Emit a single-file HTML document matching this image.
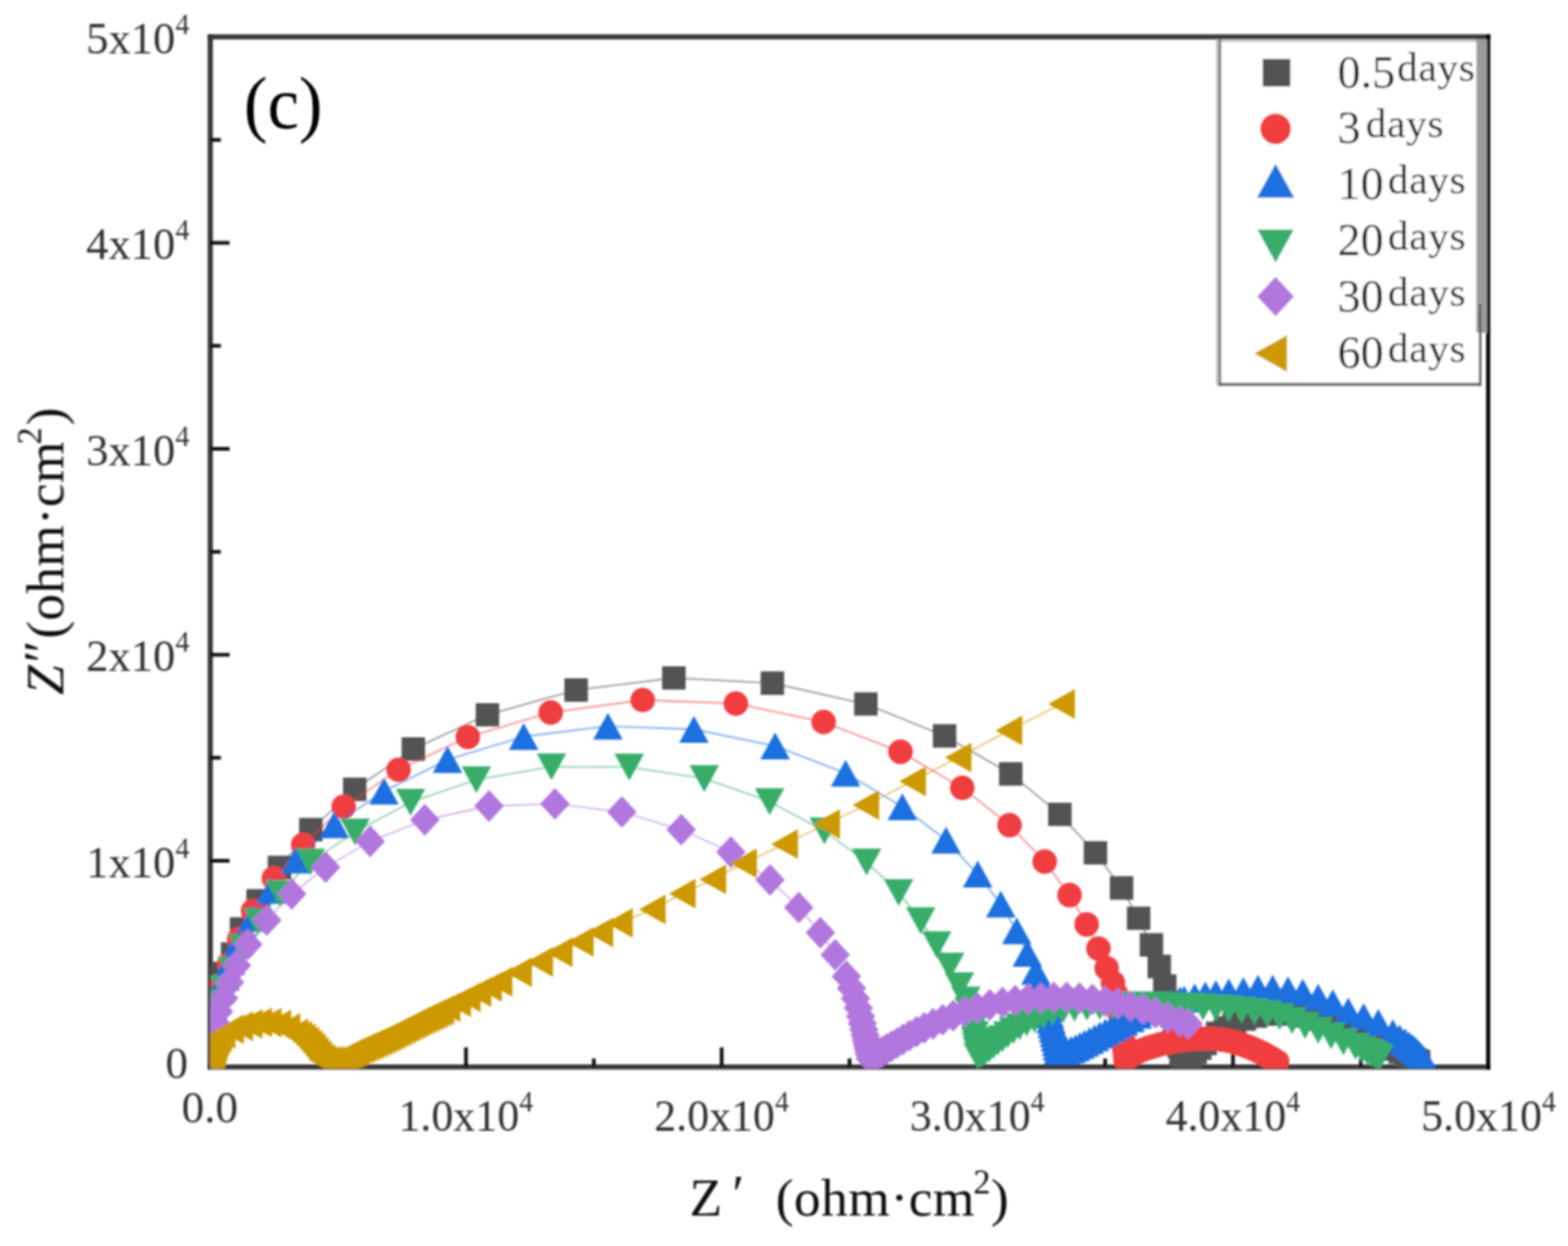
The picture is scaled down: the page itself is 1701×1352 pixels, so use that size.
<!DOCTYPE html>
<html lang="en">
<head>
<meta charset="utf-8">
<title>Nyquist plot (c)</title>
<style>
html,body{margin:0;padding:0;background:#fff;}
body{width:1701px;height:1352px;}
svg{display:block;font-family:"Liberation Serif","DejaVu Serif",serif;}
</style>
</head>
<body>
<svg width="1701" height="1352" viewBox="0 0 1701 1352">
<defs><clipPath id="plot"><rect x="228.1" y="40" width="1386" height="1119.3"/></clipPath><filter id="soft" x="0" y="0" width="100%" height="100%" filterUnits="userSpaceOnUse"><feGaussianBlur stdDeviation="0.8"/></filter></defs>
<rect width="1701" height="1352" fill="#fff"/>
<g filter="url(#soft)">
<g stroke="#383838" stroke-width="5.6" fill="none" stroke-linecap="butt">
<path d="M228.1 1160.5V37.2"/>
<path d="M225.29999999999998 40.0H1616.6"/>
<path d="M225.29999999999998 1157.7H1616.6"/>
</g>
<path d="M1614.4 37.2V1160.5" stroke="#000" stroke-width="4.4" fill="none"/>
<g stroke="#111" stroke-width="4" fill="none">
<path d="M228.1 934.0H249.1"/>
<path d="M228.1 710.5H249.1"/>
<path d="M228.1 487.0H249.1"/>
<path d="M228.1 263.5H249.1"/>
<path d="M228.1 1045.8H239.6"/>
<path d="M228.1 822.2H239.6"/>
<path d="M228.1 598.8H239.6"/>
<path d="M228.1 375.2H239.6"/>
<path d="M228.1 151.8H239.6"/>
<path d="M505.5 1157.5V1136.5"/>
<path d="M782.9 1157.5V1136.5"/>
<path d="M1060.2 1157.5V1136.5"/>
<path d="M1337.6 1157.5V1136.5"/>
<path d="M366.8 1157.5V1148.5"/>
<path d="M644.2 1157.5V1148.5"/>
<path d="M921.6 1157.5V1148.5"/>
<path d="M1198.9 1157.5V1148.5"/>
<path d="M1476.3 1157.5V1148.5"/>
</g>
<g clip-path="url(#plot)">
<path d="M228.2 1152.0L228.2 1149.1L228.2 1144.1L228.3 1138.5L228.3 1131.9L228.4 1123.9L228.7 1114.5L229.3 1103.2L230.8 1089.9L234.7 1074.4L241.0 1056.5L252.3 1035.3L262.0 1008.0L280.0 977.5L303.2 941.2L337.2 900.3L384.8 856.5L448.4 812.7L528.8 775.6L625.0 748.8L731.0 735.6L837.9 741.3L939.3 763.9L1024.7 798.5L1096.5 839.7L1149.8 883.6L1188.4 925.4L1216.7 963.5L1235.2 996.4L1249.1 1025.3L1257.6 1048.8L1263.6 1070.0L1267.9 1087.5L1271.3 1102.4L1274.2 1115.1L1276.7 1125.8L1279.0 1135.0L1281.1 1142.7L1282.9 1149.2L1284.0 1153.0L1287.8 1149.7L1291.9 1146.0L1296.5 1141.9L1301.6 1137.3L1307.3 1132.2L1313.7 1126.8L1321.0 1121.2L1329.4 1115.5L1339.0 1110.3L1349.9 1105.7L1362.2 1102.5L1375.3 1100.3L1389.0 1099.5L1402.9 1100.3L1416.7 1102.3L1430.1 1105.5L1442.9 1109.5L1455.0 1114.0L1466.4 1118.5L1477.1 1122.8L1487.0 1126.9L1496.2 1130.8L1504.6 1134.6L1512.2 1138.2L1519.1 1141.5L1525.4 1144.7L1531.1 1147.6L1536.2 1150.4L1539.0 1152.0" fill="none" stroke="#525252" stroke-width="1.6" stroke-opacity="0.62"/>
<path d="M215.5 1139.3h25.4v25.4h-25.4zM215.5 1136.4h25.4v25.4h-25.4zM215.5 1131.4h25.4v25.4h-25.4zM215.6 1125.8h25.4v25.4h-25.4zM215.6 1119.2h25.4v25.4h-25.4zM215.7 1111.2h25.4v25.4h-25.4zM216.0 1101.8h25.4v25.4h-25.4zM216.6 1090.5h25.4v25.4h-25.4zM218.1 1077.2h25.4v25.4h-25.4zM222.0 1061.7h25.4v25.4h-25.4zM228.3 1043.8h25.4v25.4h-25.4zM239.6 1022.6h25.4v25.4h-25.4zM249.3 995.3h25.4v25.4h-25.4zM267.3 964.8h25.4v25.4h-25.4zM290.5 928.5h25.4v25.4h-25.4zM324.5 887.6h25.4v25.4h-25.4zM372.1 843.8h25.4v25.4h-25.4zM435.7 800.0h25.4v25.4h-25.4zM516.1 762.9h25.4v25.4h-25.4zM612.3 736.1h25.4v25.4h-25.4zM718.3 722.9h25.4v25.4h-25.4zM825.2 728.6h25.4v25.4h-25.4zM926.6 751.2h25.4v25.4h-25.4zM1012.0 785.8h25.4v25.4h-25.4zM1083.8 827.0h25.4v25.4h-25.4zM1137.1 870.9h25.4v25.4h-25.4zM1175.7 912.7h25.4v25.4h-25.4zM1204.0 950.8h25.4v25.4h-25.4zM1222.5 983.7h25.4v25.4h-25.4zM1236.4 1012.6h25.4v25.4h-25.4zM1244.9 1036.1h25.4v25.4h-25.4zM1250.9 1057.3h25.4v25.4h-25.4zM1255.2 1074.8h25.4v25.4h-25.4zM1258.6 1089.7h25.4v25.4h-25.4zM1261.5 1102.4h25.4v25.4h-25.4zM1264.0 1113.1h25.4v25.4h-25.4zM1266.3 1122.3h25.4v25.4h-25.4zM1268.4 1130.0h25.4v25.4h-25.4zM1270.2 1136.5h25.4v25.4h-25.4zM1271.3 1140.3h25.4v25.4h-25.4zM1275.1 1137.0h25.4v25.4h-25.4zM1279.2 1133.3h25.4v25.4h-25.4zM1283.8 1129.2h25.4v25.4h-25.4zM1288.9 1124.6h25.4v25.4h-25.4zM1294.6 1119.5h25.4v25.4h-25.4zM1301.0 1114.1h25.4v25.4h-25.4zM1308.3 1108.5h25.4v25.4h-25.4zM1316.7 1102.8h25.4v25.4h-25.4zM1326.3 1097.6h25.4v25.4h-25.4zM1337.2 1093.0h25.4v25.4h-25.4zM1349.5 1089.8h25.4v25.4h-25.4zM1362.6 1087.6h25.4v25.4h-25.4zM1376.3 1086.8h25.4v25.4h-25.4zM1390.2 1087.6h25.4v25.4h-25.4zM1404.0 1089.6h25.4v25.4h-25.4zM1417.4 1092.8h25.4v25.4h-25.4zM1430.2 1096.8h25.4v25.4h-25.4zM1442.3 1101.3h25.4v25.4h-25.4zM1453.7 1105.8h25.4v25.4h-25.4zM1464.4 1110.1h25.4v25.4h-25.4zM1474.3 1114.2h25.4v25.4h-25.4zM1483.5 1118.1h25.4v25.4h-25.4zM1491.9 1121.9h25.4v25.4h-25.4zM1499.5 1125.5h25.4v25.4h-25.4zM1506.4 1128.8h25.4v25.4h-25.4zM1512.7 1132.0h25.4v25.4h-25.4zM1518.4 1134.9h25.4v25.4h-25.4zM1523.5 1137.7h25.4v25.4h-25.4zM1526.3 1139.3h25.4v25.4h-25.4z" fill="#525252"/>
<path d="M228.2 1152.0L228.3 1144.7L228.6 1136.6L229.2 1127.0L230.3 1115.6L232.3 1102.2L235.9 1086.3L241.1 1067.7L248.6 1046.0L259.5 1019.0L274.5 988.5L297.1 953.0L328.9 916.6L372.8 875.3L432.4 835.2L507.5 799.7L597.4 773.1L697.2 759.6L798.3 763.4L893.5 783.4L976.9 815.7L1043.9 854.8L1095.2 895.3L1133.3 934.9L1160.3 971.2L1178.8 1003.0L1191.6 1029.3L1200.5 1050.5L1207.4 1066.4L1210.8 1079.0L1212.9 1089.9L1214.6 1099.4L1215.8 1107.6L1216.8 1114.6L1217.6 1120.7L1218.2 1125.9L1218.8 1130.9L1219.4 1135.8L1220.0 1140.8L1220.5 1145.8L1221.0 1150.0L1224.0 1147.4L1227.5 1144.8L1231.5 1142.6L1236.0 1140.6L1240.9 1138.7L1246.2 1136.9L1251.9 1135.1L1258.0 1133.4L1264.5 1131.8L1271.4 1130.4L1278.6 1129.2L1286.2 1128.2L1293.9 1127.5L1301.9 1127.0L1309.9 1126.9L1317.8 1127.2L1325.7 1128.1L1333.2 1129.4L1340.5 1131.1L1347.3 1133.3L1353.6 1135.6L1359.5 1138.1L1365.0 1140.5L1370.1 1143.0L1374.7 1145.5L1379.0 1148.0L1382.8 1150.4L1385.5 1152.0" fill="none" stroke="#F03E41" stroke-width="1.6" stroke-opacity="0.62"/>
<path d="M214.9 1152.0a13.3 13.3 0 1 0 26.6 0a13.3 13.3 0 1 0 -26.6 0zM215.0 1144.7a13.3 13.3 0 1 0 26.6 0a13.3 13.3 0 1 0 -26.6 0zM215.3 1136.6a13.3 13.3 0 1 0 26.6 0a13.3 13.3 0 1 0 -26.6 0zM215.9 1127.0a13.3 13.3 0 1 0 26.6 0a13.3 13.3 0 1 0 -26.6 0zM217.0 1115.6a13.3 13.3 0 1 0 26.6 0a13.3 13.3 0 1 0 -26.6 0zM219.0 1102.2a13.3 13.3 0 1 0 26.6 0a13.3 13.3 0 1 0 -26.6 0zM222.6 1086.3a13.3 13.3 0 1 0 26.6 0a13.3 13.3 0 1 0 -26.6 0zM227.8 1067.7a13.3 13.3 0 1 0 26.6 0a13.3 13.3 0 1 0 -26.6 0zM235.3 1046.0a13.3 13.3 0 1 0 26.6 0a13.3 13.3 0 1 0 -26.6 0zM246.2 1019.0a13.3 13.3 0 1 0 26.6 0a13.3 13.3 0 1 0 -26.6 0zM261.2 988.5a13.3 13.3 0 1 0 26.6 0a13.3 13.3 0 1 0 -26.6 0zM283.8 953.0a13.3 13.3 0 1 0 26.6 0a13.3 13.3 0 1 0 -26.6 0zM315.6 916.6a13.3 13.3 0 1 0 26.6 0a13.3 13.3 0 1 0 -26.6 0zM359.5 875.3a13.3 13.3 0 1 0 26.6 0a13.3 13.3 0 1 0 -26.6 0zM419.1 835.2a13.3 13.3 0 1 0 26.6 0a13.3 13.3 0 1 0 -26.6 0zM494.2 799.7a13.3 13.3 0 1 0 26.6 0a13.3 13.3 0 1 0 -26.6 0zM584.1 773.1a13.3 13.3 0 1 0 26.6 0a13.3 13.3 0 1 0 -26.6 0zM683.9 759.6a13.3 13.3 0 1 0 26.6 0a13.3 13.3 0 1 0 -26.6 0zM785.0 763.4a13.3 13.3 0 1 0 26.6 0a13.3 13.3 0 1 0 -26.6 0zM880.2 783.4a13.3 13.3 0 1 0 26.6 0a13.3 13.3 0 1 0 -26.6 0zM963.6 815.7a13.3 13.3 0 1 0 26.6 0a13.3 13.3 0 1 0 -26.6 0zM1030.6 854.8a13.3 13.3 0 1 0 26.6 0a13.3 13.3 0 1 0 -26.6 0zM1081.9 895.3a13.3 13.3 0 1 0 26.6 0a13.3 13.3 0 1 0 -26.6 0zM1120.0 934.9a13.3 13.3 0 1 0 26.6 0a13.3 13.3 0 1 0 -26.6 0zM1147.0 971.2a13.3 13.3 0 1 0 26.6 0a13.3 13.3 0 1 0 -26.6 0zM1165.5 1003.0a13.3 13.3 0 1 0 26.6 0a13.3 13.3 0 1 0 -26.6 0zM1178.3 1029.3a13.3 13.3 0 1 0 26.6 0a13.3 13.3 0 1 0 -26.6 0zM1187.2 1050.5a13.3 13.3 0 1 0 26.6 0a13.3 13.3 0 1 0 -26.6 0zM1194.1 1066.4a13.3 13.3 0 1 0 26.6 0a13.3 13.3 0 1 0 -26.6 0zM1197.5 1079.0a13.3 13.3 0 1 0 26.6 0a13.3 13.3 0 1 0 -26.6 0zM1199.6 1089.9a13.3 13.3 0 1 0 26.6 0a13.3 13.3 0 1 0 -26.6 0zM1201.3 1099.4a13.3 13.3 0 1 0 26.6 0a13.3 13.3 0 1 0 -26.6 0zM1202.5 1107.6a13.3 13.3 0 1 0 26.6 0a13.3 13.3 0 1 0 -26.6 0zM1203.5 1114.6a13.3 13.3 0 1 0 26.6 0a13.3 13.3 0 1 0 -26.6 0zM1204.3 1120.7a13.3 13.3 0 1 0 26.6 0a13.3 13.3 0 1 0 -26.6 0zM1204.9 1125.9a13.3 13.3 0 1 0 26.6 0a13.3 13.3 0 1 0 -26.6 0zM1205.5 1130.9a13.3 13.3 0 1 0 26.6 0a13.3 13.3 0 1 0 -26.6 0zM1206.1 1135.8a13.3 13.3 0 1 0 26.6 0a13.3 13.3 0 1 0 -26.6 0zM1206.7 1140.8a13.3 13.3 0 1 0 26.6 0a13.3 13.3 0 1 0 -26.6 0zM1207.2 1145.8a13.3 13.3 0 1 0 26.6 0a13.3 13.3 0 1 0 -26.6 0zM1207.7 1150.0a13.3 13.3 0 1 0 26.6 0a13.3 13.3 0 1 0 -26.6 0zM1210.7 1147.4a13.3 13.3 0 1 0 26.6 0a13.3 13.3 0 1 0 -26.6 0zM1214.2 1144.8a13.3 13.3 0 1 0 26.6 0a13.3 13.3 0 1 0 -26.6 0zM1218.2 1142.6a13.3 13.3 0 1 0 26.6 0a13.3 13.3 0 1 0 -26.6 0zM1222.7 1140.6a13.3 13.3 0 1 0 26.6 0a13.3 13.3 0 1 0 -26.6 0zM1227.6 1138.7a13.3 13.3 0 1 0 26.6 0a13.3 13.3 0 1 0 -26.6 0zM1232.9 1136.9a13.3 13.3 0 1 0 26.6 0a13.3 13.3 0 1 0 -26.6 0zM1238.6 1135.1a13.3 13.3 0 1 0 26.6 0a13.3 13.3 0 1 0 -26.6 0zM1244.7 1133.4a13.3 13.3 0 1 0 26.6 0a13.3 13.3 0 1 0 -26.6 0zM1251.2 1131.8a13.3 13.3 0 1 0 26.6 0a13.3 13.3 0 1 0 -26.6 0zM1258.1 1130.4a13.3 13.3 0 1 0 26.6 0a13.3 13.3 0 1 0 -26.6 0zM1265.3 1129.2a13.3 13.3 0 1 0 26.6 0a13.3 13.3 0 1 0 -26.6 0zM1272.9 1128.2a13.3 13.3 0 1 0 26.6 0a13.3 13.3 0 1 0 -26.6 0zM1280.6 1127.5a13.3 13.3 0 1 0 26.6 0a13.3 13.3 0 1 0 -26.6 0zM1288.6 1127.0a13.3 13.3 0 1 0 26.6 0a13.3 13.3 0 1 0 -26.6 0zM1296.6 1126.9a13.3 13.3 0 1 0 26.6 0a13.3 13.3 0 1 0 -26.6 0zM1304.5 1127.2a13.3 13.3 0 1 0 26.6 0a13.3 13.3 0 1 0 -26.6 0zM1312.4 1128.1a13.3 13.3 0 1 0 26.6 0a13.3 13.3 0 1 0 -26.6 0zM1319.9 1129.4a13.3 13.3 0 1 0 26.6 0a13.3 13.3 0 1 0 -26.6 0zM1327.2 1131.1a13.3 13.3 0 1 0 26.6 0a13.3 13.3 0 1 0 -26.6 0zM1334.0 1133.3a13.3 13.3 0 1 0 26.6 0a13.3 13.3 0 1 0 -26.6 0zM1340.3 1135.6a13.3 13.3 0 1 0 26.6 0a13.3 13.3 0 1 0 -26.6 0zM1346.2 1138.1a13.3 13.3 0 1 0 26.6 0a13.3 13.3 0 1 0 -26.6 0zM1351.7 1140.5a13.3 13.3 0 1 0 26.6 0a13.3 13.3 0 1 0 -26.6 0zM1356.8 1143.0a13.3 13.3 0 1 0 26.6 0a13.3 13.3 0 1 0 -26.6 0zM1361.4 1145.5a13.3 13.3 0 1 0 26.6 0a13.3 13.3 0 1 0 -26.6 0zM1365.7 1148.0a13.3 13.3 0 1 0 26.6 0a13.3 13.3 0 1 0 -26.6 0zM1369.5 1150.4a13.3 13.3 0 1 0 26.6 0a13.3 13.3 0 1 0 -26.6 0zM1372.2 1152.0a13.3 13.3 0 1 0 26.6 0a13.3 13.3 0 1 0 -26.6 0z" fill="#F03E41"/>
<path d="M228.3 1150.0L228.5 1144.2L228.6 1139.2L228.8 1134.2L229.0 1129.2L229.3 1124.2L229.7 1118.7L230.2 1112.3L231.2 1104.8L232.8 1096.0L235.3 1085.9L239.0 1074.1L244.0 1060.5L250.0 1043.3L258.9 1022.7L273.7 996.3L294.0 966.2L321.3 933.2L362.7 894.8L416.6 858.5L485.5 824.2L568.1 799.2L659.5 788.0L752.8 791.4L840.9 809.4L917.3 839.0L978.9 875.3L1026.3 911.6L1060.6 948.4L1085.7 981.0L1103.0 1010.0L1114.5 1034.5L1123.7 1054.0L1128.4 1066.1L1131.7 1076.8L1134.3 1086.1L1136.6 1094.0L1138.5 1100.9L1140.1 1106.8L1141.4 1111.8L1142.7 1116.7L1143.8 1121.6L1144.9 1126.4L1146.0 1131.3L1147.0 1136.2L1148.0 1141.0L1152.5 1140.7L1157.2 1140.1L1161.9 1138.8L1166.7 1136.8L1171.5 1134.4L1176.5 1131.8L1181.8 1129.1L1187.3 1126.1L1193.0 1123.0L1199.0 1119.8L1205.3 1116.4L1211.8 1112.9L1218.7 1109.2L1225.9 1105.4L1233.6 1101.6L1241.8 1097.9L1250.5 1094.5L1259.8 1091.3L1269.6 1088.1L1280.0 1085.2L1284.5 1084.0L1296.0 1081.5L1307.5 1079.7L1319.0 1078.0L1333.0 1076.3L1348.8 1074.9L1364.7 1072.4L1380.6 1072.4L1397.3 1074.0L1413.2 1076.7L1430.0 1082.0L1445.8 1088.0L1462.6 1097.0L1479.3 1103.0L1495.2 1109.3L1511.0 1120.7L1518.3 1126.0L1524.1 1130.3L1528.6 1133.8L1532.2 1136.7L1535.6 1139.7L1538.8 1142.8L1541.8 1146.1L1544.5 1149.7L1545.5 1151.0" fill="none" stroke="#1A6FDF" stroke-width="1.6" stroke-opacity="0.62"/>
<path d="M228.3 1135.4L244.3 1164.6L212.3 1164.6zM228.5 1129.6L244.5 1158.8L212.5 1158.8zM228.6 1124.6L244.6 1153.8L212.6 1153.8zM228.8 1119.6L244.8 1148.8L212.8 1148.8zM229.0 1114.6L245.0 1143.8L213.0 1143.8zM229.3 1109.6L245.3 1138.8L213.3 1138.8zM229.7 1104.1L245.7 1133.3L213.7 1133.3zM230.2 1097.7L246.2 1126.9L214.2 1126.9zM231.2 1090.2L247.2 1119.4L215.2 1119.4zM232.8 1081.4L248.8 1110.6L216.8 1110.6zM235.3 1071.3L251.3 1100.5L219.3 1100.5zM239.0 1059.5L255.0 1088.7L223.0 1088.7zM244.0 1045.9L260.0 1075.1L228.0 1075.1zM250.0 1028.7L266.0 1057.9L234.0 1057.9zM258.9 1008.1L274.9 1037.3L242.9 1037.3zM273.7 981.7L289.7 1010.9L257.7 1010.9zM294.0 951.6L310.0 980.8L278.0 980.8zM321.3 918.6L337.3 947.8L305.3 947.8zM362.7 880.2L378.7 909.4L346.7 909.4zM416.6 843.9L432.6 873.1L400.6 873.1zM485.5 809.6L501.5 838.8L469.5 838.8zM568.1 784.6L584.1 813.8L552.1 813.8zM659.5 773.4L675.5 802.6L643.5 802.6zM752.8 776.8L768.8 806.0L736.8 806.0zM840.9 794.8L856.9 824.0L824.9 824.0zM917.3 824.4L933.3 853.6L901.3 853.6zM978.9 860.7L994.9 889.9L962.9 889.9zM1026.3 897.0L1042.3 926.2L1010.3 926.2zM1060.6 933.8L1076.6 963.0L1044.6 963.0zM1085.7 966.4L1101.7 995.6L1069.7 995.6zM1103.0 995.4L1119.0 1024.6L1087.0 1024.6zM1114.5 1019.9L1130.5 1049.1L1098.5 1049.1zM1123.7 1039.4L1139.7 1068.6L1107.7 1068.6zM1128.4 1051.5L1144.4 1080.7L1112.4 1080.7zM1131.7 1062.2L1147.7 1091.4L1115.7 1091.4zM1134.3 1071.5L1150.3 1100.7L1118.3 1100.7zM1136.6 1079.4L1152.6 1108.6L1120.6 1108.6zM1138.5 1086.3L1154.5 1115.5L1122.5 1115.5zM1140.1 1092.2L1156.1 1121.4L1124.1 1121.4zM1141.4 1097.2L1157.4 1126.4L1125.4 1126.4zM1142.7 1102.1L1158.7 1131.3L1126.7 1131.3zM1143.8 1107.0L1159.8 1136.2L1127.8 1136.2zM1144.9 1111.8L1160.9 1141.0L1128.9 1141.0zM1146.0 1116.7L1162.0 1145.9L1130.0 1145.9zM1147.0 1121.6L1163.0 1150.8L1131.0 1150.8zM1148.0 1126.4L1164.0 1155.6L1132.0 1155.6zM1152.5 1126.1L1168.5 1155.3L1136.5 1155.3zM1157.2 1125.5L1173.2 1154.7L1141.2 1154.7zM1161.9 1124.2L1177.9 1153.4L1145.9 1153.4zM1166.7 1122.2L1182.7 1151.4L1150.7 1151.4zM1171.5 1119.8L1187.5 1149.0L1155.5 1149.0zM1176.5 1117.2L1192.5 1146.4L1160.5 1146.4zM1181.8 1114.5L1197.8 1143.7L1165.8 1143.7zM1187.3 1111.5L1203.3 1140.7L1171.3 1140.7zM1193.0 1108.4L1209.0 1137.6L1177.0 1137.6zM1199.0 1105.2L1215.0 1134.4L1183.0 1134.4zM1205.3 1101.8L1221.3 1131.0L1189.3 1131.0zM1211.8 1098.3L1227.8 1127.5L1195.8 1127.5zM1218.7 1094.6L1234.7 1123.8L1202.7 1123.8zM1225.9 1090.8L1241.9 1120.0L1209.9 1120.0zM1233.6 1087.0L1249.6 1116.2L1217.6 1116.2zM1241.8 1083.3L1257.8 1112.5L1225.8 1112.5zM1250.5 1079.9L1266.5 1109.1L1234.5 1109.1zM1259.8 1076.7L1275.8 1105.9L1243.8 1105.9zM1269.6 1073.5L1285.6 1102.7L1253.6 1102.7zM1280.0 1070.6L1296.0 1099.8L1264.0 1099.8zM1284.5 1069.4L1300.5 1098.6L1268.5 1098.6zM1296.0 1066.9L1312.0 1096.1L1280.0 1096.1zM1307.5 1065.1L1323.5 1094.3L1291.5 1094.3zM1319.0 1063.4L1335.0 1092.6L1303.0 1092.6zM1333.0 1061.7L1349.0 1090.9L1317.0 1090.9zM1348.8 1060.3L1364.8 1089.5L1332.8 1089.5zM1364.7 1057.8L1380.7 1087.0L1348.7 1087.0zM1380.6 1057.8L1396.6 1087.0L1364.6 1087.0zM1397.3 1059.4L1413.3 1088.6L1381.3 1088.6zM1413.2 1062.1L1429.2 1091.3L1397.2 1091.3zM1430.0 1067.4L1446.0 1096.6L1414.0 1096.6zM1445.8 1073.4L1461.8 1102.6L1429.8 1102.6zM1462.6 1082.4L1478.6 1111.6L1446.6 1111.6zM1479.3 1088.4L1495.3 1117.6L1463.3 1117.6zM1495.2 1094.7L1511.2 1123.9L1479.2 1123.9zM1511.0 1106.1L1527.0 1135.3L1495.0 1135.3zM1518.3 1111.4L1534.3 1140.6L1502.3 1140.6zM1524.1 1115.7L1540.1 1144.9L1508.1 1144.9zM1528.6 1119.2L1544.6 1148.4L1512.6 1148.4zM1532.2 1122.1L1548.2 1151.3L1516.2 1151.3zM1535.6 1125.1L1551.6 1154.3L1519.6 1154.3zM1538.8 1128.2L1554.8 1157.4L1522.8 1157.4zM1541.8 1131.5L1557.8 1160.7L1525.8 1160.7zM1544.5 1135.1L1560.5 1164.3L1528.5 1164.3zM1545.5 1136.4L1561.5 1165.6L1529.5 1165.6z" fill="#1A6FDF"/>
<path d="M228.2 1150.0L228.3 1146.9L228.5 1141.9L228.7 1136.9L229.0 1131.5L229.4 1125.3L230.0 1118.0L231.1 1109.4L233.2 1099.4L237.0 1088.0L243.0 1072.5L251.8 1052.6L263.5 1028.0L279.9 1000.0L303.7 969.5L336.5 935.4L385.3 902.9L445.4 870.5L516.8 846.0L598.2 832.0L682.6 832.3L764.0 844.8L834.9 869.8L894.3 901.6L940.1 935.4L974.9 968.5L998.9 999.2L1016.2 1025.0L1030.2 1048.4L1040.8 1069.6L1047.8 1085.0L1051.1 1096.5L1053.5 1106.6L1055.4 1115.2L1057.0 1122.7L1058.4 1129.1L1059.4 1134.7L1060.2 1139.6L1061.0 1146.0L1064.9 1143.8L1069.0 1141.2L1073.2 1138.1L1077.6 1134.7L1082.4 1131.0L1087.6 1127.1L1093.2 1122.9L1099.3 1118.4L1106.1 1114.1L1113.8 1110.0L1122.4 1106.3L1131.7 1102.4L1141.9 1098.6L1153.2 1095.6L1165.6 1093.9L1179.1 1093.0L1193.1 1092.2L1207.1 1091.3L1221.1 1090.7L1235.1 1090.4L1249.1 1090.4L1263.1 1090.8L1277.0 1091.3L1291.0 1091.9L1305.0 1092.7L1319.0 1093.5L1332.9 1094.7L1346.9 1096.1L1360.8 1097.8L1374.6 1099.9L1388.2 1103.1L1401.7 1107.3L1415.8 1112.6L1430.0 1118.0L1444.0 1124.0L1457.3 1130.3L1470.5 1135.5L1477.7 1138.9L1483.6 1141.6L1488.2 1143.6L1492.3 1145.6L1496.0 1147.5" fill="none" stroke="#37AD6B" stroke-width="1.6" stroke-opacity="0.62"/>
<path d="M228.2 1164.6L244.2 1135.4L212.2 1135.4zM228.3 1161.5L244.3 1132.3L212.3 1132.3zM228.5 1156.5L244.5 1127.3L212.5 1127.3zM228.7 1151.5L244.7 1122.3L212.7 1122.3zM229.0 1146.1L245.0 1116.9L213.0 1116.9zM229.4 1139.9L245.4 1110.7L213.4 1110.7zM230.0 1132.6L246.0 1103.4L214.0 1103.4zM231.1 1124.0L247.1 1094.8L215.1 1094.8zM233.2 1114.0L249.2 1084.8L217.2 1084.8zM237.0 1102.6L253.0 1073.4L221.0 1073.4zM243.0 1087.1L259.0 1057.9L227.0 1057.9zM251.8 1067.2L267.8 1038.0L235.8 1038.0zM263.5 1042.6L279.5 1013.4L247.5 1013.4zM279.9 1014.6L295.9 985.4L263.9 985.4zM303.7 984.1L319.7 954.9L287.7 954.9zM336.5 950.0L352.5 920.8L320.5 920.8zM385.3 917.5L401.3 888.3L369.3 888.3zM445.4 885.1L461.4 855.9L429.4 855.9zM516.8 860.6L532.8 831.4L500.8 831.4zM598.2 846.6L614.2 817.4L582.2 817.4zM682.6 846.9L698.6 817.7L666.6 817.7zM764.0 859.4L780.0 830.2L748.0 830.2zM834.9 884.4L850.9 855.2L818.9 855.2zM894.3 916.2L910.3 887.0L878.3 887.0zM940.1 950.0L956.1 920.8L924.1 920.8zM974.9 983.1L990.9 953.9L958.9 953.9zM998.9 1013.8L1014.9 984.6L982.9 984.6zM1016.2 1039.6L1032.2 1010.4L1000.2 1010.4zM1030.2 1063.0L1046.2 1033.8L1014.2 1033.8zM1040.8 1084.2L1056.8 1055.0L1024.8 1055.0zM1047.8 1099.6L1063.8 1070.4L1031.8 1070.4zM1051.1 1111.1L1067.1 1081.9L1035.1 1081.9zM1053.5 1121.2L1069.5 1092.0L1037.5 1092.0zM1055.4 1129.8L1071.4 1100.6L1039.4 1100.6zM1057.0 1137.3L1073.0 1108.1L1041.0 1108.1zM1058.4 1143.7L1074.4 1114.5L1042.4 1114.5zM1059.4 1149.3L1075.4 1120.1L1043.4 1120.1zM1060.2 1154.2L1076.2 1125.0L1044.2 1125.0zM1061.0 1160.6L1077.0 1131.4L1045.0 1131.4zM1064.9 1158.4L1080.9 1129.2L1048.9 1129.2zM1069.0 1155.8L1085.0 1126.6L1053.0 1126.6zM1073.2 1152.7L1089.2 1123.5L1057.2 1123.5zM1077.6 1149.3L1093.6 1120.1L1061.6 1120.1zM1082.4 1145.6L1098.4 1116.4L1066.4 1116.4zM1087.6 1141.7L1103.6 1112.5L1071.6 1112.5zM1093.2 1137.5L1109.2 1108.3L1077.2 1108.3zM1099.3 1133.0L1115.3 1103.8L1083.3 1103.8zM1106.1 1128.7L1122.1 1099.5L1090.1 1099.5zM1113.8 1124.6L1129.8 1095.4L1097.8 1095.4zM1122.4 1120.9L1138.4 1091.7L1106.4 1091.7zM1131.7 1117.0L1147.7 1087.8L1115.7 1087.8zM1141.9 1113.2L1157.9 1084.0L1125.9 1084.0zM1153.2 1110.2L1169.2 1081.0L1137.2 1081.0zM1165.6 1108.5L1181.6 1079.3L1149.6 1079.3zM1179.1 1107.6L1195.1 1078.4L1163.1 1078.4zM1193.1 1106.8L1209.1 1077.6L1177.1 1077.6zM1207.1 1105.9L1223.1 1076.7L1191.1 1076.7zM1221.1 1105.3L1237.1 1076.1L1205.1 1076.1zM1235.1 1105.0L1251.1 1075.8L1219.1 1075.8zM1249.1 1105.0L1265.1 1075.8L1233.1 1075.8zM1263.1 1105.4L1279.1 1076.2L1247.1 1076.2zM1277.0 1105.9L1293.0 1076.7L1261.0 1076.7zM1291.0 1106.5L1307.0 1077.3L1275.0 1077.3zM1305.0 1107.3L1321.0 1078.1L1289.0 1078.1zM1319.0 1108.1L1335.0 1078.9L1303.0 1078.9zM1332.9 1109.3L1348.9 1080.1L1316.9 1080.1zM1346.9 1110.7L1362.9 1081.5L1330.9 1081.5zM1360.8 1112.4L1376.8 1083.2L1344.8 1083.2zM1374.6 1114.5L1390.6 1085.3L1358.6 1085.3zM1388.2 1117.7L1404.2 1088.5L1372.2 1088.5zM1401.7 1121.9L1417.7 1092.7L1385.7 1092.7zM1415.8 1127.2L1431.8 1098.0L1399.8 1098.0zM1430.0 1132.6L1446.0 1103.4L1414.0 1103.4zM1444.0 1138.6L1460.0 1109.4L1428.0 1109.4zM1457.3 1144.9L1473.3 1115.7L1441.3 1115.7zM1470.5 1150.1L1486.5 1120.9L1454.5 1120.9zM1477.7 1153.5L1493.7 1124.3L1461.7 1124.3zM1483.6 1156.2L1499.6 1127.0L1467.6 1127.0zM1488.2 1158.2L1504.2 1129.0L1472.2 1129.0zM1492.3 1160.2L1508.3 1131.0L1476.3 1131.0zM1496.0 1162.1L1512.0 1132.9L1480.0 1132.9z" fill="#37AD6B"/>
<path d="M228.2 1152.0L228.3 1145.2L228.8 1138.2L229.6 1130.1L231.0 1120.8L233.3 1110.0L237.0 1097.5L242.5 1083.0L249.0 1066.0L256.5 1047.6L268.8 1024.7L289.4 998.4L316.4 970.0L353.2 940.9L401.6 912.9L460.9 889.6L530.5 874.6L602.0 872.3L674.6 881.0L739.0 900.3L792.8 924.6L835.4 954.7L866.5 984.7L890.0 1012.0L906.0 1036.0L918.2 1059.4L923.7 1072.3L928.1 1083.6L931.2 1093.8L933.6 1102.7L935.5 1110.4L937.2 1117.2L938.5 1123.2L939.6 1128.3L940.7 1133.2L941.8 1138.1L942.8 1143.0L944.0 1148.5L947.9 1146.3L952.2 1143.9L956.8 1141.2L961.8 1138.3L967.2 1135.2L973.1 1131.7L979.5 1127.9L986.5 1123.8L994.2 1119.5L1002.7 1115.2L1012.2 1110.9L1022.6 1106.5L1034.1 1102.1L1046.7 1097.7L1060.1 1093.8L1073.7 1090.4L1087.5 1087.7L1101.3 1085.7L1115.2 1084.1L1129.2 1083.0L1143.2 1082.3L1157.2 1082.2L1171.1 1083.1L1185.1 1084.5L1198.9 1086.4L1212.7 1088.9L1226.4 1091.7L1240.0 1094.9L1253.4 1099.0L1266.6 1103.6L1279.8 1108.3L1289.0 1111.0" fill="none" stroke="#B177DE" stroke-width="1.6" stroke-opacity="0.62"/>
<path d="M228.2 1134.7L244.2 1152.0L228.2 1169.3L212.2 1152.0zM228.3 1127.9L244.3 1145.2L228.3 1162.5L212.3 1145.2zM228.8 1120.9L244.8 1138.2L228.8 1155.5L212.8 1138.2zM229.6 1112.8L245.6 1130.1L229.6 1147.4L213.6 1130.1zM231.0 1103.5L247.0 1120.8L231.0 1138.1L215.0 1120.8zM233.3 1092.7L249.3 1110.0L233.3 1127.3L217.3 1110.0zM237.0 1080.2L253.0 1097.5L237.0 1114.8L221.0 1097.5zM242.5 1065.7L258.5 1083.0L242.5 1100.3L226.5 1083.0zM249.0 1048.7L265.0 1066.0L249.0 1083.3L233.0 1066.0zM256.5 1030.3L272.5 1047.6L256.5 1064.9L240.5 1047.6zM268.8 1007.4L284.8 1024.7L268.8 1042.0L252.8 1024.7zM289.4 981.1L305.4 998.4L289.4 1015.7L273.4 998.4zM316.4 952.7L332.4 970.0L316.4 987.3L300.4 970.0zM353.2 923.6L369.2 940.9L353.2 958.2L337.2 940.9zM401.6 895.6L417.6 912.9L401.6 930.2L385.6 912.9zM460.9 872.3L476.9 889.6L460.9 906.9L444.9 889.6zM530.5 857.3L546.5 874.6L530.5 891.9L514.5 874.6zM602.0 855.0L618.0 872.3L602.0 889.6L586.0 872.3zM674.6 863.7L690.6 881.0L674.6 898.3L658.6 881.0zM739.0 883.0L755.0 900.3L739.0 917.6L723.0 900.3zM792.8 907.3L808.8 924.6L792.8 941.9L776.8 924.6zM835.4 937.4L851.4 954.7L835.4 972.0L819.4 954.7zM866.5 967.4L882.5 984.7L866.5 1002.0L850.5 984.7zM890.0 994.7L906.0 1012.0L890.0 1029.3L874.0 1012.0zM906.0 1018.7L922.0 1036.0L906.0 1053.3L890.0 1036.0zM918.2 1042.1L934.2 1059.4L918.2 1076.7L902.2 1059.4zM923.7 1055.0L939.7 1072.3L923.7 1089.6L907.7 1072.3zM928.1 1066.3L944.1 1083.6L928.1 1100.9L912.1 1083.6zM931.2 1076.5L947.2 1093.8L931.2 1111.1L915.2 1093.8zM933.6 1085.4L949.6 1102.7L933.6 1120.0L917.6 1102.7zM935.5 1093.1L951.5 1110.4L935.5 1127.7L919.5 1110.4zM937.2 1099.9L953.2 1117.2L937.2 1134.5L921.2 1117.2zM938.5 1105.9L954.5 1123.2L938.5 1140.5L922.5 1123.2zM939.6 1111.0L955.6 1128.3L939.6 1145.6L923.6 1128.3zM940.7 1115.9L956.7 1133.2L940.7 1150.5L924.7 1133.2zM941.8 1120.8L957.8 1138.1L941.8 1155.4L925.8 1138.1zM942.8 1125.7L958.8 1143.0L942.8 1160.3L926.8 1143.0zM944.0 1131.2L960.0 1148.5L944.0 1165.8L928.0 1148.5zM947.9 1129.0L963.9 1146.3L947.9 1163.6L931.9 1146.3zM952.2 1126.6L968.2 1143.9L952.2 1161.2L936.2 1143.9zM956.8 1123.9L972.8 1141.2L956.8 1158.5L940.8 1141.2zM961.8 1121.0L977.8 1138.3L961.8 1155.6L945.8 1138.3zM967.2 1117.9L983.2 1135.2L967.2 1152.5L951.2 1135.2zM973.1 1114.4L989.1 1131.7L973.1 1149.0L957.1 1131.7zM979.5 1110.6L995.5 1127.9L979.5 1145.2L963.5 1127.9zM986.5 1106.5L1002.5 1123.8L986.5 1141.1L970.5 1123.8zM994.2 1102.2L1010.2 1119.5L994.2 1136.8L978.2 1119.5zM1002.7 1097.9L1018.7 1115.2L1002.7 1132.5L986.7 1115.2zM1012.2 1093.6L1028.2 1110.9L1012.2 1128.2L996.2 1110.9zM1022.6 1089.2L1038.6 1106.5L1022.6 1123.8L1006.6 1106.5zM1034.1 1084.8L1050.1 1102.1L1034.1 1119.4L1018.1 1102.1zM1046.7 1080.4L1062.7 1097.7L1046.7 1115.0L1030.7 1097.7zM1060.1 1076.5L1076.1 1093.8L1060.1 1111.1L1044.1 1093.8zM1073.7 1073.1L1089.7 1090.4L1073.7 1107.7L1057.7 1090.4zM1087.5 1070.4L1103.5 1087.7L1087.5 1105.0L1071.5 1087.7zM1101.3 1068.4L1117.3 1085.7L1101.3 1103.0L1085.3 1085.7zM1115.2 1066.8L1131.2 1084.1L1115.2 1101.4L1099.2 1084.1zM1129.2 1065.7L1145.2 1083.0L1129.2 1100.3L1113.2 1083.0zM1143.2 1065.0L1159.2 1082.3L1143.2 1099.6L1127.2 1082.3zM1157.2 1064.9L1173.2 1082.2L1157.2 1099.5L1141.2 1082.2zM1171.1 1065.8L1187.1 1083.1L1171.1 1100.4L1155.1 1083.1zM1185.1 1067.2L1201.1 1084.5L1185.1 1101.8L1169.1 1084.5zM1198.9 1069.1L1214.9 1086.4L1198.9 1103.7L1182.9 1086.4zM1212.7 1071.6L1228.7 1088.9L1212.7 1106.2L1196.7 1088.9zM1226.4 1074.4L1242.4 1091.7L1226.4 1109.0L1210.4 1091.7zM1240.0 1077.6L1256.0 1094.9L1240.0 1112.2L1224.0 1094.9zM1253.4 1081.7L1269.4 1099.0L1253.4 1116.3L1237.4 1099.0zM1266.6 1086.3L1282.6 1103.6L1266.6 1120.9L1250.6 1103.6zM1279.8 1091.0L1295.8 1108.3L1279.8 1125.6L1263.8 1108.3zM1289.0 1093.7L1305.0 1111.0L1289.0 1128.3L1273.0 1111.0z" fill="#B177DE"/>
<path d="M229.0 1151.0L229.5 1146.5L230.2 1142.1L231.4 1137.8L232.8 1133.5L234.6 1129.3L237.1 1125.6L241.0 1122.0L250.2 1116.9L260.1 1113.6L270.3 1111.1L280.7 1109.4L291.1 1109.6L301.4 1111.7L311.3 1115.3L320.0 1121.0L324.2 1123.8L328.2 1126.7L332.0 1130.0L335.5 1133.5L338.9 1137.2L342.1 1141.0L345.3 1144.9L348.5 1148.7L350.6 1150.7L355.1 1151.0L359.6 1151.1L364.7 1150.7L368.4 1148.8L372.2 1146.9L375.9 1145.0L379.7 1143.2L383.5 1141.4L387.3 1139.6L391.2 1137.9L395.0 1136.2L398.9 1134.5L402.7 1132.8L406.5 1131.1L410.4 1129.4L414.2 1127.6L418.0 1125.8L421.7 1124.0L425.5 1122.1L429.3 1120.2L433.0 1118.4L436.8 1116.4L440.5 1114.5L444.2 1112.6L448.0 1110.7L451.7 1108.9L455.5 1107.0L459.3 1105.2L463.1 1103.4L466.9 1101.6L470.7 1099.8L474.5 1098.0L478.3 1096.2L485.0 1093.0L496.5 1087.4L507.0 1082.2L518.5 1076.6L530.0 1071.0L541.4 1065.4L562.6 1055.0L585.5 1043.8L606.7 1033.4L629.6 1022.2L650.8 1011.8L672.0 1001.4L707.7 986.8L740.2 969.7L773.3 954.2L806.6 936.7L851.2 915.9L896.8 894.1L939.3 873.6L990.0 847.8L1039.4 822.0L1094.5 792.7L1151.6 763.9" fill="none" stroke="#CC9900" stroke-width="1.6" stroke-opacity="0.62"/>
<path d="M214.6 1151.0L243.4 1134.9L243.4 1167.1zM215.1 1146.5L243.9 1130.4L243.9 1162.6zM215.8 1142.1L244.6 1126.0L244.6 1158.2zM217.0 1137.8L245.8 1121.7L245.8 1153.9zM218.4 1133.5L247.2 1117.4L247.2 1149.6zM220.2 1129.3L249.0 1113.2L249.0 1145.4zM222.7 1125.6L251.5 1109.5L251.5 1141.7zM226.6 1122.0L255.4 1105.9L255.4 1138.1zM235.8 1116.9L264.6 1100.8L264.6 1133.0zM245.7 1113.6L274.5 1097.5L274.5 1129.7zM255.9 1111.1L284.7 1095.0L284.7 1127.2zM266.3 1109.4L295.1 1093.3L295.1 1125.5zM276.7 1109.6L305.5 1093.5L305.5 1125.7zM287.0 1111.7L315.8 1095.6L315.8 1127.8zM296.9 1115.3L325.7 1099.2L325.7 1131.4zM305.6 1121.0L334.4 1104.9L334.4 1137.1zM309.8 1123.8L338.6 1107.7L338.6 1139.9zM313.8 1126.7L342.6 1110.6L342.6 1142.8zM317.6 1130.0L346.4 1113.9L346.4 1146.1zM321.1 1133.5L349.9 1117.4L349.9 1149.6zM324.5 1137.2L353.3 1121.1L353.3 1153.3zM327.7 1141.0L356.5 1124.9L356.5 1157.1zM330.9 1144.9L359.7 1128.8L359.7 1161.0zM334.1 1148.7L362.9 1132.6L362.9 1164.8zM336.2 1150.7L365.0 1134.6L365.0 1166.8zM340.7 1151.0L369.5 1134.9L369.5 1167.1zM345.2 1151.1L374.0 1135.0L374.0 1167.2zM350.3 1150.7L379.1 1134.6L379.1 1166.8zM354.0 1148.8L382.8 1132.7L382.8 1164.9zM357.8 1146.9L386.6 1130.8L386.6 1163.0zM361.5 1145.0L390.3 1128.9L390.3 1161.1zM365.3 1143.2L394.1 1127.1L394.1 1159.3zM369.1 1141.4L397.9 1125.3L397.9 1157.5zM372.9 1139.6L401.7 1123.5L401.7 1155.7zM376.8 1137.9L405.6 1121.8L405.6 1154.0zM380.6 1136.2L409.4 1120.1L409.4 1152.3zM384.5 1134.5L413.3 1118.4L413.3 1150.6zM388.3 1132.8L417.1 1116.7L417.1 1148.9zM392.1 1131.1L420.9 1115.0L420.9 1147.2zM396.0 1129.4L424.8 1113.3L424.8 1145.5zM399.8 1127.6L428.6 1111.5L428.6 1143.7zM403.6 1125.8L432.4 1109.7L432.4 1141.9zM407.3 1124.0L436.1 1107.9L436.1 1140.1zM411.1 1122.1L439.9 1106.0L439.9 1138.2zM414.9 1120.2L443.7 1104.1L443.7 1136.3zM418.6 1118.4L447.4 1102.3L447.4 1134.5zM422.4 1116.4L451.2 1100.3L451.2 1132.5zM426.1 1114.5L454.9 1098.4L454.9 1130.6zM429.8 1112.6L458.6 1096.5L458.6 1128.7zM433.6 1110.7L462.4 1094.6L462.4 1126.8zM437.3 1108.9L466.1 1092.8L466.1 1125.0zM441.1 1107.0L469.9 1090.9L469.9 1123.1zM444.9 1105.2L473.7 1089.1L473.7 1121.3zM448.7 1103.4L477.5 1087.3L477.5 1119.5zM452.5 1101.6L481.3 1085.5L481.3 1117.7zM456.3 1099.8L485.1 1083.7L485.1 1115.9zM460.1 1098.0L488.9 1081.9L488.9 1114.1zM463.9 1096.2L492.7 1080.1L492.7 1112.3zM470.6 1093.0L499.4 1076.9L499.4 1109.1zM482.1 1087.4L510.9 1071.3L510.9 1103.5zM492.6 1082.2L521.4 1066.1L521.4 1098.3zM504.1 1076.6L532.9 1060.5L532.9 1092.7zM515.6 1071.0L544.4 1054.9L544.4 1087.1zM527.0 1065.4L555.8 1049.3L555.8 1081.5zM548.2 1055.0L577.0 1038.9L577.0 1071.1zM571.1 1043.8L599.9 1027.7L599.9 1059.9zM592.3 1033.4L621.1 1017.3L621.1 1049.5zM615.2 1022.2L644.0 1006.1L644.0 1038.3zM636.4 1011.8L665.2 995.7L665.2 1027.9zM657.6 1001.4L686.4 985.3L686.4 1017.5zM693.3 986.8L722.1 970.7L722.1 1002.9zM725.8 969.7L754.6 953.6L754.6 985.8zM758.9 954.2L787.7 938.1L787.7 970.3zM792.2 936.7L821.0 920.6L821.0 952.8zM836.8 915.9L865.6 899.8L865.6 932.0zM882.4 894.1L911.2 878.0L911.2 910.2zM924.9 873.6L953.7 857.5L953.7 889.7zM975.6 847.8L1004.4 831.7L1004.4 863.9zM1025.0 822.0L1053.8 805.9L1053.8 838.1zM1080.1 792.7L1108.9 776.6L1108.9 808.8zM1137.2 763.9L1166.0 747.8L1166.0 780.0z" fill="#CC9900"/>
</g>
<g>
<rect x="1322" y="43" width="284" height="374" fill="#fff" stroke="none"/>
<path d="M1320.6 42.8V418.6" stroke="#c0c0c0" stroke-width="2.7" fill="none"/>
<path d="M1323.4 42.8V418.6" stroke="#808080" stroke-width="2.9" fill="none"/>
<path d="M1322 417H1607" stroke="#5c5c5c" stroke-width="3.2" fill="none"/>
<path d="M1325 44.1H1602" stroke="#c4c4c4" stroke-width="2.7" fill="none"/>
<path d="M1607.4 42.8V361" stroke="#9c9c9c" stroke-width="11.6" fill="none"/>
<path d="M1605.7 330V418.6" stroke="#555" stroke-width="2.6" fill="none"/>
<path d="M1369.8 63.9h30.0v30.0h-30.0z" fill="#525252"/>
<text x="1451" y="94.5" font-size="50" fill="#1c1c1c">0.5 <tspan x="1515.5" dy="-6.5" font-size="45" letter-spacing="0.7">days</tspan></text>
<path d="M1367.2 139.8a16.6 16.6 0 1 0 33.2 0a16.6 16.6 0 1 0 -33.2 0z" fill="#F03E41"/>
<text x="1451" y="155" font-size="50" fill="#1c1c1c">3 <tspan x="1481.5" dy="-6.5" font-size="45" letter-spacing="0.7">days</tspan></text>
<path d="M1383.8 177.8L1404.0 214.6L1363.6 214.6z" fill="#1A6FDF"/>
<text x="1451" y="216" font-size="50" fill="#1c1c1c">10 <tspan x="1505.5" dy="-6.5" font-size="45" letter-spacing="0.7">days</tspan></text>
<path d="M1383.8 285.1L1403.6 248.9L1364.0 248.9z" fill="#37AD6B"/>
<text x="1451" y="277" font-size="50" fill="#1c1c1c">20 <tspan x="1505.5" dy="-6.5" font-size="45" letter-spacing="0.7">days</tspan></text>
<path d="M1383.8 300.3L1403.7 321.8L1383.8 343.3L1363.9 321.8z" fill="#B177DE"/>
<text x="1451" y="338" font-size="50" fill="#1c1c1c">30 <tspan x="1505.5" dy="-6.5" font-size="45" letter-spacing="0.7">days</tspan></text>
<path d="M1360.8 383.6L1396.2 363.8L1396.2 403.4z" fill="#CC9900"/>
<text x="1451" y="399" font-size="50" fill="#1c1c1c">60 <tspan x="1505.5" dy="-6.5" font-size="45" letter-spacing="0.7">days</tspan></text>
</g>
<text x="93.5" y="951.7" font-size="49" textLength="112" lengthAdjust="spacingAndGlyphs" fill="#303030">1x10<tspan font-size="31" dy="-21">4</tspan></text>
<text x="93.5" y="728.2" font-size="49" textLength="112" lengthAdjust="spacingAndGlyphs" fill="#303030">2x10<tspan font-size="31" dy="-21">4</tspan></text>
<text x="93.5" y="504.7" font-size="49" textLength="112" lengthAdjust="spacingAndGlyphs" fill="#303030">3x10<tspan font-size="31" dy="-21">4</tspan></text>
<text x="93.5" y="281.2" font-size="49" textLength="112" lengthAdjust="spacingAndGlyphs" fill="#303030">4x10<tspan font-size="31" dy="-21">4</tspan></text>
<text x="93.5" y="57.7" font-size="49" textLength="112" lengthAdjust="spacingAndGlyphs" fill="#303030">5x10<tspan font-size="31" dy="-21">4</tspan></text>
<text x="204" y="1170.3" font-size="49" text-anchor="end" fill="#303030">0</text>
<text x="227.5" y="1217.8" font-size="49" text-anchor="middle" fill="#303030">0.0</text>
<text x="432.3" y="1227" font-size="49" textLength="146" lengthAdjust="spacingAndGlyphs" fill="#303030">1.0x10<tspan font-size="31" dy="-21">4</tspan></text>
<text x="709.7" y="1227" font-size="49" textLength="146" lengthAdjust="spacingAndGlyphs" fill="#303030">2.0x10<tspan font-size="31" dy="-21">4</tspan></text>
<text x="987.0" y="1227" font-size="49" textLength="146" lengthAdjust="spacingAndGlyphs" fill="#303030">3.0x10<tspan font-size="31" dy="-21">4</tspan></text>
<text x="1264.4" y="1227" font-size="49" textLength="146" lengthAdjust="spacingAndGlyphs" fill="#303030">4.0x10<tspan font-size="31" dy="-21">4</tspan></text>
<text x="1541.8" y="1227" font-size="49" textLength="146" lengthAdjust="spacingAndGlyphs" fill="#303030">5.0x10<tspan font-size="31" dy="-21">4</tspan></text>
<text x="264.5" y="138.6" font-size="80.5" textLength="85.5" lengthAdjust="spacingAndGlyphs" fill="#000">(c)</text>
<text y="1318.5" font-size="58" fill="#0a0a0a"><tspan x="748">Z</tspan><tspan x="791" dy="-4" font-style="italic">′</tspan> <tspan x="841.5" dy="4" letter-spacing="0.5">(ohm·cm</tspan><tspan x="1056" dy="-24" font-size="37">2</tspan><tspan x="1075" dy="24">)</tspan></text>
<text transform="translate(68.5 754) rotate(-90)" y="0" font-size="58" fill="#0a0a0a"><tspan x="0" font-style="italic">Z</tspan><tspan x="35" dy="-3">″</tspan><tspan x="61" dy="3" letter-spacing="0.2">(ohm·cm</tspan><tspan x="271.8" dy="-24" font-size="37">2</tspan><tspan x="292.5" dy="24">)</tspan></text>
</g>
</svg>
</body>
</html>
